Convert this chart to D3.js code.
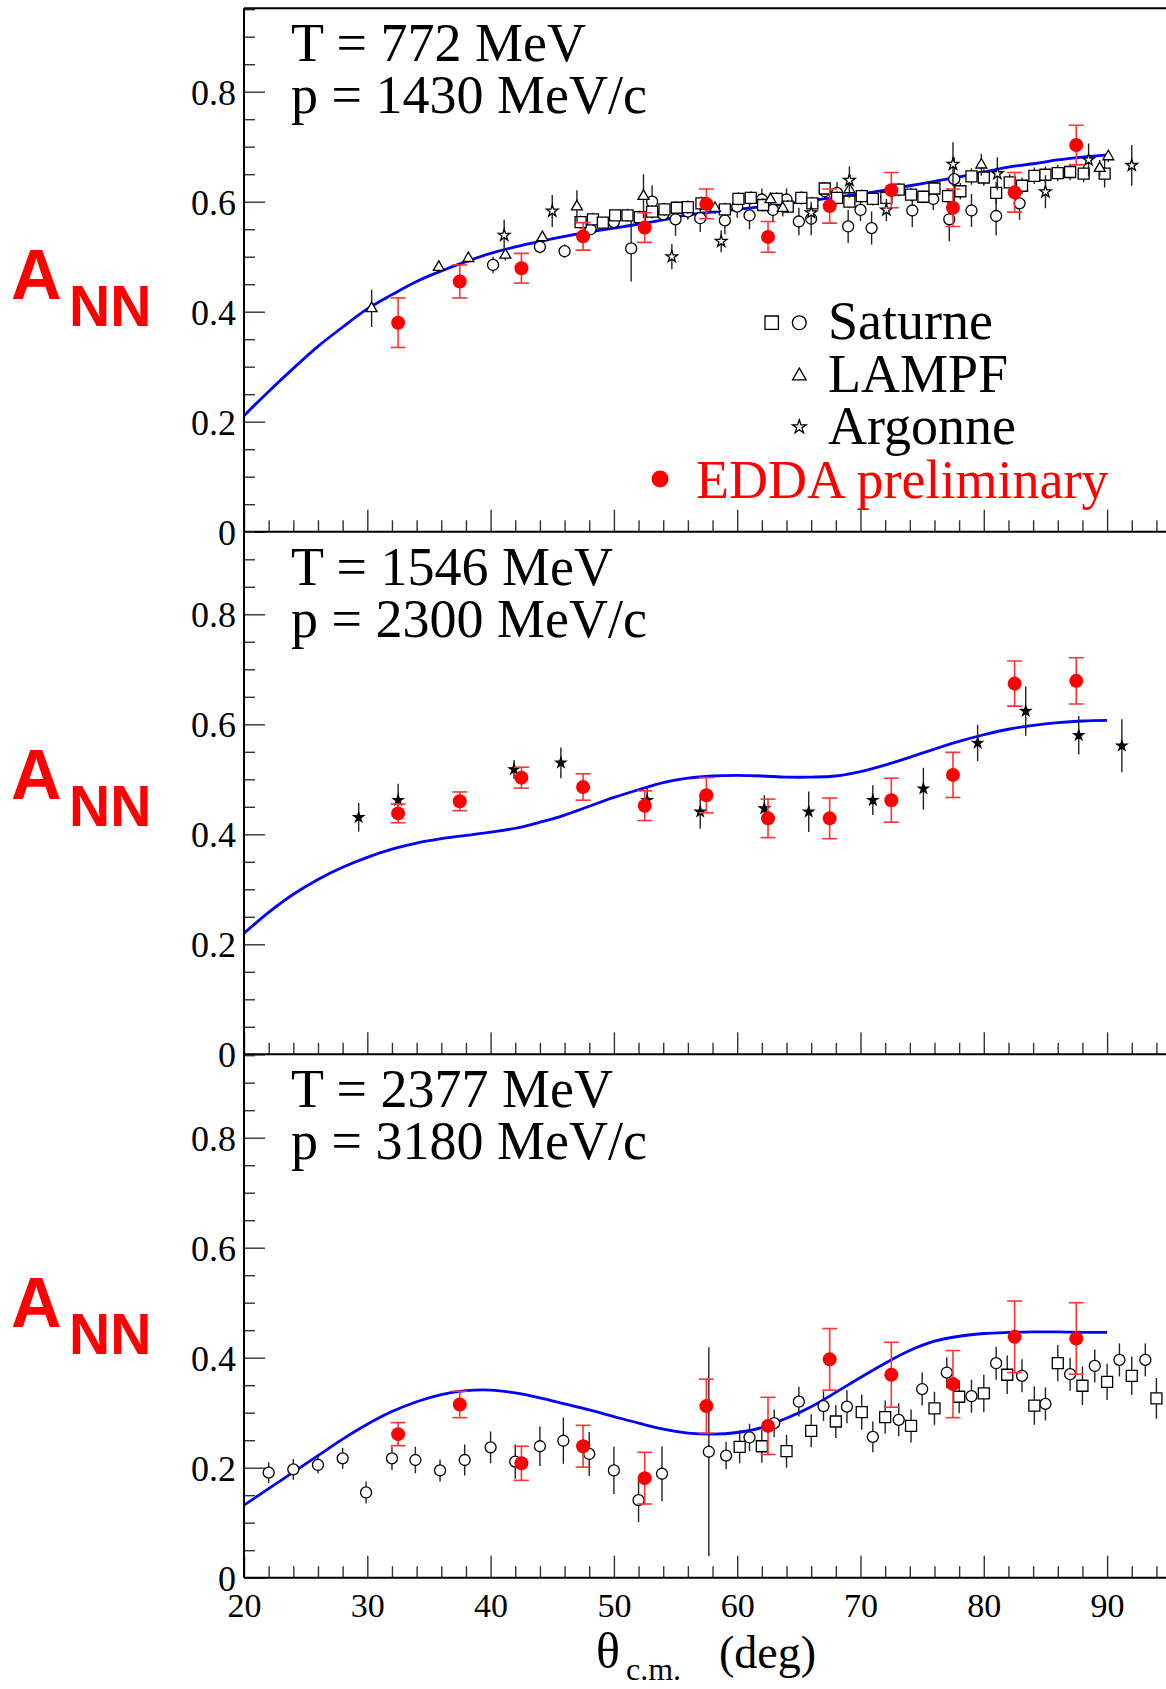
<!DOCTYPE html>
<html><head><meta charset="utf-8">
<script src="https://cdn.jsdelivr.net/npm/d3@7"></script>
<style>
html,body{margin:0;padding:0;background:#fff;}
svg{display:block;}
</style></head><body>
<svg id="c" width="1166" height="1689"></svg>
<script>
// ---------------- DATA ----------------
const xMajorTicks = [20, 30, 40, 50, 60, 70, 80, 90];
const yMajorTicks = [0, 0.2, 0.4, 0.6, 0.8];
const panelEnergy = ["T = 772 MeV", "T = 1546 MeV", "T = 2377 MeV"];
const panelMomentum = ["p = 1430 MeV/c", "p = 2300 MeV/c", "p = 3180 MeV/c"];
const legendLabels = ["Saturne", "LAMPF", "Argonne", "EDDA preliminary"];
const yLabelMain = "A";
const yLabelSub = "NN";

// theory curves (blue)
const curveAngles = [20,22,24,26,28,30,32,34,36,38,40,42,44,46,48,50,52,54,56,58,60,62,64,66,68,70,72,74,76,78,80,82,84,86,88,90];
const curve772  = [0.211,0.255,0.297,0.337,0.372,0.405,0.431,0.455,0.474,0.491,0.506,0.518,0.528,0.537,0.545,0.552,0.559,0.567,0.576,0.581,0.586,0.591,0.596,0.602,0.608,0.614,0.621,0.629,0.637,0.645,0.654,0.663,0.669,0.676,0.681,0.685];
const curve1546 = [0.220,0.258,0.291,0.318,0.340,0.358,0.373,0.384,0.392,0.398,0.404,0.411,0.422,0.435,0.451,0.467,0.481,0.494,0.502,0.506,0.507,0.506,0.504,0.504,0.506,0.514,0.526,0.540,0.555,0.569,0.581,0.591,0.598,0.603,0.606,0.607];
const curve2377 = [0.132,0.162,0.192,0.222,0.252,0.279,0.302,0.320,0.333,0.340,0.341,0.336,0.327,0.316,0.305,0.293,0.281,0.270,0.263,0.261,0.264,0.273,0.290,0.311,0.337,0.364,0.390,0.413,0.430,0.439,0.444,0.446,0.447,0.447,0.446,0.446];

// EDDA preliminary (red)
const eddaAngles = [32.5,37.5,42.5,47.5,52.5,57.5,62.5,67.5,72.5,77.5,82.5,87.5];
const edda772     = [0.380,0.455,0.479,0.537,0.553,0.596,0.536,0.592,0.621,0.589,0.617,0.703];
const edda772Err  = [0.045,0.030,0.027,0.025,0.027,0.027,0.028,0.031,0.032,0.034,0.036,0.036];
const edda1546    = [0.438,0.460,0.503,0.486,0.452,0.471,0.429,0.429,0.462,0.508,0.674,0.679];
const edda1546Err = [0.017,0.017,0.019,0.024,0.027,0.032,0.035,0.037,0.040,0.041,0.041,0.042];
const edda2377    = [0.261,0.315,0.208,0.239,0.181,0.312,0.276,0.397,0.369,0.352,0.438,0.435];
const edda2377Err = [0.021,0.024,0.031,0.038,0.047,0.049,0.052,0.056,0.059,0.061,0.065,0.065];

// world data [angle, A_NN, error]
const saturneSquares772 = [[47.3,0.563,0.012],[48.3,0.568,0.012],[49.1,0.562,0.010],[50.1,0.575,0.010],[51.1,0.575,0.012],[52.1,0.572,0.012],[53.1,0.582,0.012],[54.1,0.586,0.012],[55.1,0.589,0.012],[56.0,0.590,0.012],[57.1,0.597,0.012],[59.0,0.586,0.012],[60.1,0.605,0.012],[61.1,0.607,0.012],[62.1,0.594,0.012],[63.2,0.605,0.012],[64.1,0.591,0.012],[65.2,0.607,0.012],[66.1,0.597,0.012],[67.1,0.624,0.012],[68.1,0.607,0.012],[69.1,0.600,0.012],[70.1,0.610,0.012],[71.0,0.605,0.012],[72.1,0.607,0.012],[73.1,0.622,0.012],[74.1,0.613,0.012],[75.1,0.609,0.012],[76.0,0.624,0.012],[77.1,0.610,0.015],[78.1,0.619,0.015],[79.0,0.646,0.015],[80.0,0.644,0.015],[81.0,0.616,0.020],[82.1,0.635,0.015],[83.1,0.629,0.015],[84.1,0.647,0.015],[85.0,0.649,0.015],[86.0,0.652,0.015],[87.0,0.654,0.015],[88.1,0.651,0.015],[89.8,0.651,0.025]];
const saturneCircles772 = [[40.2,0.485,0.015],[44.0,0.518,0.012],[46.0,0.510,0.012],[48.1,0.550,0.010],[50.0,0.563,0.012],[51.4,0.515,0.060],[53.1,0.600,0.030],[54.0,0.577,0.012],[55.0,0.568,0.030],[56.0,0.582,0.015],[57.0,0.570,0.025],[59.0,0.566,0.025],[60.0,0.591,0.020],[61.0,0.575,0.025],[62.0,0.604,0.020],[62.9,0.585,0.020],[64.0,0.604,0.020],[65.0,0.564,0.025],[66.0,0.569,0.030],[67.1,0.619,0.015],[68.1,0.616,0.020],[69.0,0.555,0.030],[70.0,0.585,0.020],[70.9,0.552,0.030],[72.1,0.609,0.020],[74.2,0.584,0.030],[75.9,0.605,0.020],[77.2,0.568,0.040],[77.6,0.641,0.040],[79.0,0.584,0.030],[81.0,0.574,0.035],[82.9,0.597,0.030]];
const lampf772 = [[30.35,0.406,0.034],[35.8,0.481,0.008],[38.2,0.497,0.008],[41.2,0.503,0.010],[44.2,0.535,0.010],[47.0,0.591,0.030],[52.4,0.610,0.040],[58.2,0.588,0.010],[62.7,0.604,0.010],[63.7,0.588,0.015],[69.1,0.622,0.015],[79.8,0.667,0.020],[89.4,0.661,0.015],[90.1,0.682,0.010]];
const argonne772 = [[41.1,0.539,0.028],[45.0,0.583,0.029],[54.7,0.500,0.023],[58.7,0.528,0.020],[66.0,0.580,0.020],[69.1,0.639,0.025],[72.1,0.585,0.020],[77.5,0.668,0.040],[81.1,0.651,0.030],[85.0,0.618,0.030],[88.5,0.676,0.030],[92.0,0.666,0.037]];
const argonne1546 = [[29.3,0.431,0.026],[32.5,0.462,0.030],[41.9,0.518,0.017],[45.7,0.530,0.028],[52.7,0.462,0.022],[57.0,0.441,0.031],[62.2,0.447,0.024],[65.8,0.441,0.037],[71.0,0.462,0.027],[75.1,0.483,0.038],[79.5,0.566,0.033],[83.4,0.624,0.045],[87.7,0.580,0.035],[91.2,0.561,0.048]];
const saturneCircles2377 = [[22.0,0.191,0.019],[24.0,0.197,0.019],[26.0,0.205,0.015],[28.0,0.217,0.019],[29.9,0.155,0.020],[32.0,0.217,0.021],[33.9,0.214,0.024],[35.9,0.195,0.020],[37.9,0.214,0.028],[40.0,0.237,0.029],[42.0,0.211,0.031],[44.0,0.239,0.036],[45.9,0.249,0.042],[48.0,0.225,0.040],[50.0,0.195,0.043],[52.0,0.141,0.040],[53.9,0.189,0.050],[57.7,0.229,0.190],[59.1,0.222,0.025],[61.0,0.255,0.025],[63.0,0.281,0.025],[65.0,0.320,0.027],[67.0,0.312,0.027],[68.9,0.311,0.030],[71.0,0.256,0.028],[73.1,0.287,0.030],[75.0,0.343,0.030],[77.0,0.373,0.028],[79.0,0.330,0.030],[81.0,0.390,0.030],[83.1,0.367,0.030],[85.0,0.316,0.030],[87.0,0.370,0.030],[89.0,0.385,0.030],[91.0,0.396,0.030],[93.1,0.396,0.030]];
const saturneSquares2377 = [[60.2,0.238,0.030],[62.0,0.239,0.030],[64.0,0.230,0.030],[66.0,0.267,0.030],[68.0,0.284,0.030],[70.1,0.301,0.032],[72.0,0.292,0.030],[74.1,0.276,0.030],[76.0,0.308,0.030],[78.0,0.329,0.030],[80.0,0.335,0.034],[81.9,0.369,0.035],[84.1,0.313,0.035],[86.0,0.390,0.033],[88.0,0.349,0.035],[90.0,0.356,0.033],[92.0,0.367,0.035],[94.0,0.326,0.037]];

// ---------------- DRAWING ----------------
const svg = d3.select("#c");
const W = 1166;
const serif = "'Liberation Serif','Times New Roman',serif";
const sans = "'Liberation Sans',Arial,sans-serif";

const x = d3.scaleLinear().domain([20, 100]).range([244, 244 + 80 * 12.33]);
const panelBottoms = [531.7, 1054.3, 1577.7];
const panelTopFrame = 8.3;
const pxPerUnit = 550;

const panels = [
  {curve: curve772, edda: edda772, err: edda772Err,
   sets: [
     {data: saturneCircles772, sym: d3.symbolCircle, size: 95, fill: "#fff"},
     {data: saturneSquares772, sym: d3.symbolSquare, size: 121, fill: "#fff"},
     {data: lampf772, sym: d3.symbolTriangle, size: 52, fill: "#fff"},
     {data: argonne772, sym: d3.symbolStar, size: 42, fill: "#fff"}
   ], aBase: 299, nnBase: 326},
  {curve: curve1546, edda: edda1546, err: edda1546Err,
   sets: [
     {data: argonne1546, sym: d3.symbolStar, size: 31, fill: "#000"}
   ], aBase: 798.5, nnBase: 825.5},
  {curve: curve2377, edda: edda2377, err: edda2377Err,
   sets: [
     {data: saturneCircles2377, sym: d3.symbolCircle, size: 95, fill: "#fff"},
     {data: saturneSquares2377, sym: d3.symbolSquare, size: 121, fill: "#fff"}
   ], aBase: 1326.5, nnBase: 1353.5}
];

const defs = svg.append("defs");

panels.forEach((p, i) => {
  const bottom = panelBottoms[i];
  const top = i === 0 ? panelTopFrame : panelBottoms[i - 1];
  const y = d3.scaleLinear().domain([0, 0.95]).range([bottom, bottom - 0.95 * pxPerUnit]);

  defs.append("clipPath").attr("id", "clip" + i)
    .append("rect").attr("x", 244).attr("y", top).attr("width", W - 244).attr("height", bottom - top);

  const g = svg.append("g");
  const plot = g.append("g").attr("clip-path", `url(#clip${i})`);

  // theory curve
  const line = d3.line().x((d, k) => x(curveAngles[k])).y(d => y(d)).curve(d3.curveCatmullRom.alpha(0.5));
  plot.append("path").datum(p.curve).attr("d", line)
    .attr("fill", "none").attr("stroke", "#0000ff").attr("stroke-width", 2.8);

  // world data
  p.sets.forEach(s => {
    plot.append("g").selectAll("line").data(s.data).join("line")
      .attr("x1", d => x(d[0])).attr("x2", d => x(d[0]))
      .attr("y1", d => y(d[1] - d[2])).attr("y2", d => y(d[1] + d[2]))
      .attr("stroke", "#222").attr("stroke-width", 1.4);
    plot.append("g").selectAll("path").data(s.data).join("path")
      .attr("transform", d => `translate(${x(d[0])},${y(d[1])})`)
      .attr("d", d3.symbol(s.sym, s.size)())
      .attr("fill", s.fill).attr("stroke", "#000").attr("stroke-width", 1.3);
  });

  // EDDA
  const eg = plot.append("g");
  p.edda.forEach((v, k) => {
    const cx = x(eddaAngles[k]);
    const e = p.err[k];
    eg.append("line").attr("x1", cx).attr("x2", cx).attr("y1", y(v - e)).attr("y2", y(v + e))
      .attr("stroke", "#ff3333").attr("stroke-width", 1.6);
    [v - e, v + e].forEach(t => eg.append("line").attr("x1", cx - 7.5).attr("x2", cx + 7.5)
      .attr("y1", y(t)).attr("y2", y(t)).attr("stroke", "#ff3333").attr("stroke-width", 1.6));
    eg.append("circle").attr("cx", cx).attr("cy", y(v)).attr("r", 7).attr("fill", "#ff0000");
  });

  // axes
  const xMinor = d3.range(22, 96, 2).filter(t => t % 10 !== 0);
  const yMinor = d3.range(0.05, 0.951, 0.05).filter(t => Math.abs(t * 5 - Math.round(t * 5)) > 1e-6);
  const xAxisMinor = d3.axisBottom(x).tickValues(xMinor).tickSize(-11.5).tickFormat("");
  const xAxisMajor = d3.axisBottom(x).tickValues(xMajorTicks).tickSize(-22).tickPadding(15)
    .tickFormat(i === 2 ? d3.format("d") : "");
  const yAxisMinor = d3.axisLeft(y).tickValues(yMinor).tickSize(-11).tickFormat("");
  const yAxisMajor = d3.axisLeft(y).tickValues(yMajorTicks).tickSize(-21).tickPadding(8)
    .tickFormat(d => d === 0 ? "0" : d3.format(".1f")(d));

  [xAxisMinor, xAxisMajor].forEach(ax => {
    const a = g.append("g").attr("transform", `translate(0,${bottom})`).call(ax);
    a.select(".domain").remove();
    a.selectAll(".tick line").attr("stroke", "#333").attr("stroke-width", 1.4);
    a.selectAll(".tick text").attr("font-family", serif).attr("font-size", 34).attr("fill", "#000");
  });
  [yAxisMinor, yAxisMajor].forEach(ax => {
    const a = g.append("g").attr("transform", `translate(244,0)`).call(ax);
    a.select(".domain").remove();
    a.selectAll(".tick line").attr("stroke", "#333").attr("stroke-width", 1.4);
    a.selectAll(".tick text").attr("font-family", serif).attr("font-size", 36).attr("fill", "#000")
      .attr("dy", "0.35em");
  });

  // axis lines
  g.append("line").attr("x1", 244).attr("x2", W).attr("y1", bottom).attr("y2", bottom)
    .attr("stroke", "#000").attr("stroke-width", 2);
  g.append("line").attr("x1", 244).attr("x2", 244).attr("y1", top).attr("y2", bottom)
    .attr("stroke", "#000").attr("stroke-width", 2);
  if (i === 0) {
    g.append("line").attr("x1", 244).attr("x2", W).attr("y1", top).attr("y2", top)
      .attr("stroke", "#000").attr("stroke-width", 2);
  }

  // panel titles
  g.append("text").attr("x", 291).attr("y", top + 53).text(panelEnergy[i])
    .attr("font-family", serif).attr("font-size", 54);
  g.append("text").attr("x", 291).attr("y", top + 105).text(panelMomentum[i])
    .attr("font-family", serif).attr("font-size", 54);

  // A_NN label
  g.append("text").attr("x", 11).attr("y", p.aBase).text(yLabelMain)
    .attr("font-family", sans).attr("font-weight", "bold").attr("font-size", 70).attr("fill", "#ff0000");
  g.append("text").attr("x", 69).attr("y", p.nnBase).text(yLabelSub)
    .attr("font-family", sans).attr("font-weight", "bold").attr("font-size", 57).attr("fill", "#ff0000");
});

// legend (panel 1)
const lg = svg.append("g");
const legSym = (sym, size, cx, cy) => lg.append("path")
  .attr("transform", `translate(${cx},${cy})`).attr("d", d3.symbol(sym, size)())
  .attr("fill", "#fff").attr("stroke", "#000").attr("stroke-width", 1.3);
legSym(d3.symbolSquare, 180, 771.7, 322.7);
legSym(d3.symbolCircle, 150, 799.3, 322.7);
legSym(d3.symbolTriangle, 80, 799.3, 376);
legSym(d3.symbolStar, 58, 799.3, 427);
lg.append("circle").attr("cx", 660).attr("cy", 479).attr("r", 8.5).attr("fill", "#ff0000");
const legY = [339, 391.9, 444];
legendLabels.slice(0, 3).forEach((t, k) => lg.append("text").attr("x", 828).attr("y", legY[k]).text(t)
  .attr("font-family", serif).attr("font-size", 54).attr("fill", "#000"));
lg.append("text").attr("x", 696).attr("y", 497.6).text(legendLabels[3])
  .attr("font-family", serif).attr("font-size", 54).attr("fill", "#ff0000");

// x-axis title
const xt = svg.append("g").attr("font-family", serif);
xt.append("text").attr("x", 596).attr("y", 1668).attr("font-size", 50).text("θ");
xt.append("text").attr("x", 626).attr("y", 1680).attr("font-size", 32).text("c.m.");
xt.append("text").attr("x", 719).attr("y", 1668).attr("font-size", 46).text("(deg)");
</script>
</body></html>
